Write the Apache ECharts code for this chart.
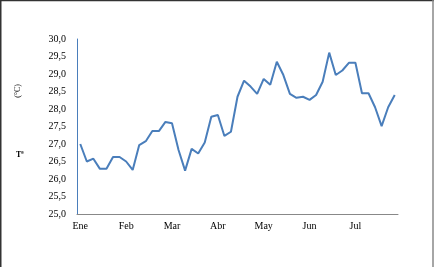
<!DOCTYPE html>
<html><head><meta charset="utf-8">
<script src="https://cdn.jsdelivr.net/npm/echarts@6/dist/echarts.min.js"></script>
<style>html,body{margin:0;padding:0;background:#fff}#c{width:434px;height:267px}</style>
</head><body><div id="c"></div>
<script>
const monthLabels = ['Ene','Feb','Mar','Abr','May','Jun','Jul'];
const pointsPerLabel = 7;
const temps = [27.0,26.5,26.58,26.29,26.29,26.63,26.63,26.5,26.26,26.97,
  27.08,27.37,27.37,27.63,27.59,26.83,26.24,26.86,26.73,27.04,
  27.78,27.83,27.23,27.35,28.35,28.81,28.64,28.43,28.86,28.69,
  29.35,28.97,28.43,28.32,28.35,28.26,28.4,28.78,29.61,28.97,
  29.1,29.32,29.32,28.45,28.45,28.05,27.51,28.05,28.4];
const yTicks = {min:25, max:30, step:0.5};

const categories = temps.map((v,i)=> i % pointsPerLabel === 0 ? monthLabels[i/pointsPerLabel] : '');
const chart = echarts.init(document.getElementById('c'));
const serif = '"Liberation Serif","Times New Roman",serif';
chart.setOption({
  animation:false,
  grid:{left:77,right:36,top:39,bottom:53},
  xAxis:{type:'category',data:categories,boundaryGap:true,
    axisLine:{lineStyle:{color:'#888',width:1}},
    axisTick:{show:false},
    axisLabel:{interval:(i)=> i % pointsPerLabel === 0,color:'#000',fontFamily:serif,fontSize:10,margin:7},
    splitLine:{show:false}},
  yAxis:{type:'value',min:yTicks.min,max:yTicks.max,interval:yTicks.step,
    axisLine:{show:true,lineStyle:{color:'#4a7ebb',width:1}},
    axisTick:{show:false},
    axisLabel:{color:'#000',fontFamily:serif,fontSize:10,margin:11,formatter:v=>v.toFixed(1).replace('.',',')},
    splitLine:{show:false}},
  series:[{type:'line',data:temps,showSymbol:false,symbol:'none',
    lineStyle:{color:'#4a7ebb',width:2}}],
  graphic:[
    {type:'text',left:14,top:84,rotation:Math.PI/2,style:{text:'(°C)',font:'8px '+serif,fill:'#000'}},
    {type:'text',left:16,top:151,style:{text:'Tª',font:'bold 8px '+serif,fill:'#000'}},
    {type:'line',shape:{x1:0.5,y1:0,x2:0.5,y2:267},style:{stroke:'#333',lineWidth:2}},
    {type:'line',shape:{x1:0,y1:0.5,x2:434,y2:0.5},style:{stroke:'#333',lineWidth:1.5}},
    {type:'line',shape:{x1:433,y1:0,x2:433,y2:267},style:{stroke:'#888',lineWidth:1.5}}
  ]
});
</script></body></html>
